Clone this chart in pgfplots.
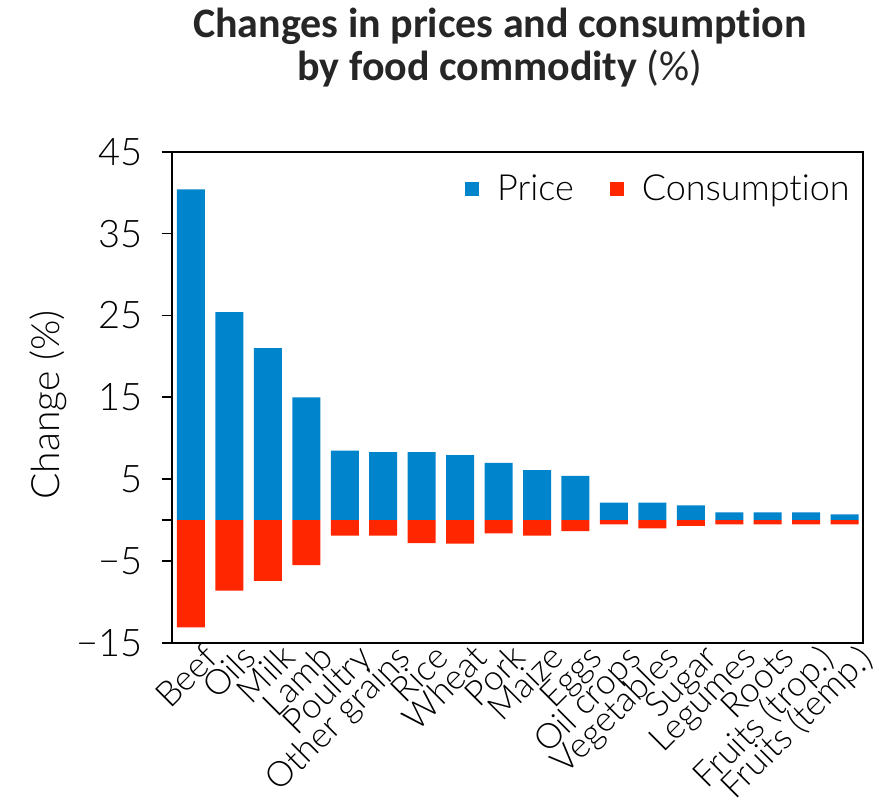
\documentclass[border=0pt]{standalone}
\usepackage{fontspec}
\setmainfont{Lato Light}[Ligatures=NoCommon]
\newfontfamily\titlefont{Carlito}[Ligatures=NoCommon]
\usepackage{pgfplots}
\usepackage{pgfplotstable}
\pgfplotsset{compat=1.18}
\definecolor{pblue}{HTML}{0085CC}
\definecolor{cred}{HTML}{FF2600}
\definecolor{tgray}{HTML}{262626}

\pgfplotstableread{
x price cons
0 40.4 -13.1
1 25.4 -8.6
2 21.0 -7.4
3 15.0 -5.5
4 8.5 -1.9
5 8.3 -1.9
6 8.3 -2.8
7 7.95 -2.85
8 7.0 -1.6
9 6.1 -1.9
10 5.4 -1.35
11 2.15 -0.5
12 2.15 -1.0
13 1.8 -0.7
14 0.95 -0.5
15 0.95 -0.5
16 0.95 -0.5
17 0.7 -0.5
}\data

\begin{document}
\begin{tikzpicture}
\path[use as bounding box] (-86.15pt,-81.5pt) rectangle (353.35pt,321.5pt);
\begin{axis}[
  at={(0pt,0pt)}, anchor=south west,
  scale only axis, width=345.5pt, height=245.65pt,
  xmin=-0.486, xmax=17.486, ymin=-15, ymax=45,
  ybar, bar width=14pt,
  ytick={-15,-5,0,5,15,25,35,45},
  yticklabels={−15,−5,,5,15,25,35,45},
  xtick={0,...,17},
  xticklabels={Beef,Oils,Milk,Lamb,Poultry,Other grains,Rice,Wheat,Pork,Maize,Eggs,Oil crops,Vegetables,Sugar,Legumes,Roots,Fruits (trop.),Fruits (temp.)},
  xtick style={draw=none},
  ytick pos=left,
  tick align=outside,
  major tick length=5.3pt,
  ytick style={black, line width=0.9pt},
  axis line style={line width=0.9pt},
  yticklabel style={font=\fontsize{19}{20}\selectfont, inner sep=0pt, xshift=-9.5pt},
  xticklabel style={font=\fontsize{17.5}{18}\selectfont, xshift=5.5pt, yshift=6pt, rotate=45, anchor=north east, inner sep=0pt},
  ylabel={Change (\%)},
  ylabel style={font=\fontsize{19.5}{21}\selectfont, at={(axis description cs:-0.18,0.4844)}, anchor=center},
  legend columns=2,
  legend style={draw=none, fill=none, at={(rel axis cs:1,1)}, anchor=north east, xshift=-3.65pt, yshift=-9.5pt,
    font=\fontsize{18}{19}\selectfont, nodes={inner sep=0pt},
    /tikz/every even column/.append style={column sep=18pt}},
  legend image code/.code={\fill[#1] (0pt,-3.5pt) rectangle (7pt,3.5pt); \path (16pt,0pt);},
]
\addplot[fill=pblue, draw=none, bar shift=0pt] table[x=x, y=price] {\data};
\addlegendentry{Price}
\addplot[fill=cred, draw=none, bar shift=0pt] table[x=x, y=cons] {\data};
\addlegendentry{Consumpt\kern0pt ion}
\end{axis}
\node[font=\titlefont\bfseries\fontsize{21}{23}\selectfont, text=tgray, anchor=base, inner sep=0pt] at (163.85pt,302.5pt) {Changes in prices and consumpt\kern0pt ion};
\node[font=\titlefont\fontsize{21}{23}\selectfont, text=tgray, anchor=base, inner sep=0pt] at (163.85pt,281.0pt) {\textbf{by food commodity} (\%)};
\end{tikzpicture}
\end{document}
